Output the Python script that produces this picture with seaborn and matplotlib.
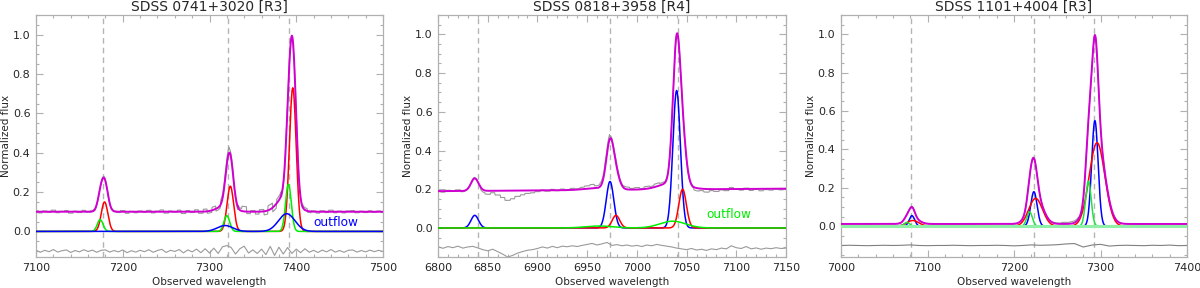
import numpy as np
import pandas as pd
import matplotlib
matplotlib.use("Agg")
import matplotlib.pyplot as plt
import seaborn as sns
from matplotlib.ticker import MultipleLocator

# --- data -----------------------------------------------------------------
titles = ["SDSS 0741+3020 [R3]", "SDSS 0818+3958 [R4]", "SDSS 1101+4004 [R3]"]
xlims = [(7100, 7500), (6800, 7150), (7000, 7400)]
ylims = [(-0.13, 1.1), (-0.15, 1.1), (-0.16, 1.1)]
xmajor = [100, 50, 100]
xminor = [20, 10, 20]

# vertical reference lines (line centres)
p1_vlines = [7177, 7321, 7392]
p2_vlines = [6840, 6973, 7041]
p3_vlines = [7081, 7223, 7293]

# continuum level at left / right edge
p1_cont = [0.10, 0.10]
p2_cont = [0.190, 0.203]
p3_cont = [0.012, 0.012]

# gaussian components: (centre, amplitude, sigma)
p1_red = [(7179, 0.15, 3.8), (7324, 0.23, 3.8), (7396, 0.73, 3.9)]
p1_green = [(7174, 0.06, 3.3), (7320, 0.08, 3.3), (7391, 0.24, 3.3)]
p1_blue = [(7318, 0.03, 9.0), (7389, 0.09, 9.5)]

p2_blue = [(6837, 0.065, 3.8), (6973, 0.24, 3.8), (7040, 0.71, 3.8)]
p2_red = [(6979, 0.065, 3.8), (7046, 0.20, 3.8)]
p2_green = [(6962, 0.010, 14.0), (7036, 0.035, 13.0)]

p3_blue = [(7082, 0.055, 3.2), (7223, 0.18, 3.7), (7293.5, 0.55, 3.7)]
p3_red = [(7083, 0.030, 7.0), (7225, 0.145, 8.0), (7296, 0.435, 9.0)]
p3_green = [(7076, 0.020, 3.2), (7218, 0.075, 3.2), (7286, 0.235, 3.2)]

# residuals (data - model), sampled every 5 A (panels 1,2) / 10 A (panel 3)
p1_resid = [0.005, -0.006, 0.004, -0.003, 0.008, -0.005, 0.002, 0.006, -0.007, 0.003,
            -0.004, 0.007, -0.002, 0.005, -0.006, 0.004, 0.006, -0.005, 0.003, -0.004,
            0.006, -0.008, 0.002, -0.005, 0.004, -0.003, 0.007, -0.006, 0.003, 0.009,
            -0.007, 0.004, -0.002, 0.008, -0.009, 0.006, -0.004, 0.010, -0.008, 0.012,
            -0.010, 0.015, -0.012, 0.022, 0.028, 0.018, -0.015, 0.012, 0.025, -0.010,
            0.006, -0.012, 0.010, -0.018, 0.024, -0.022, 0.020, -0.015, 0.018, -0.012,
            0.010, -0.008, 0.012, -0.006, 0.004, -0.007, 0.005, -0.004, 0.008, -0.005,
            0.003, -0.006, 0.004, 0.006, -0.005, 0.003, -0.004, 0.005, -0.003, 0.004,
            -0.002]
p2_resid = [0.003, -0.005, 0.004, -0.002, 0.006, -0.004, 0.002, 0.005, -0.003, -0.012,
            -0.018, -0.010, -0.022, -0.035, -0.050, -0.042, -0.030, -0.022, -0.015, -0.012,
            -0.006, 0.002, -0.004, 0.005, -0.002, 0.006, 0.003, 0.008, 0.004, 0.010,
            0.015, 0.020, 0.012, 0.018, 0.025, 0.010, 0.014, 0.008, 0.012, 0.006,
            0.010, 0.004, 0.012, 0.008, 0.015, 0.010, 0.006, 0.002, -0.004, -0.008,
            -0.012, -0.006, -0.014, -0.010, -0.016, -0.008, -0.012, -0.004, -0.008, 0.008,
            -0.002, -0.006, 0.004, -0.008, -0.003, -0.010, -0.004, -0.007, -0.002, -0.006,
            -0.004]
p3_resid = [0.000, 0.001, 0.000, -0.001, 0.000, 0.001, 0.000, 0.001, 0.003, 0.000,
            -0.001, 0.000, 0.000, 0.001, 0.000, -0.001, 0.000, 0.000, 0.001, 0.000,
            -0.002, 0.000, 0.003, 0.001, 0.002, 0.004, 0.008, 0.010, -0.008, 0.002,
            0.006, -0.003, 0.000, 0.001, 0.000, -0.001, 0.001, 0.000, 0.002, -0.001,
            0.000]
resid_step = [5, 5, 10]

outflow_text = [(7420, 0.045, "#0000ff"), (7070, 0.07, "#00ee00"), None]

# --- styling ---------------------------------------------------------------
sns.set_style("ticks")
plt.rcParams["font.family"] = ["DejaVu Sans"]
axcol = "#b0b0b0"
MAG = "#d000d0"
RED = "#ff0000"
BLUE = "#0000ff"
GREEN = "#00ee00"
GRAY = "#9a9a9a"


def gauss_sum(wl, comps):
    out = np.zeros_like(wl)
    for c, a, s in comps:
        out += a * np.exp(-0.5 * ((wl - c) / s) ** 2)
    return out


def line(ax, x, y, color, lw, **kw):
    sns.lineplot(x=x, y=y, ax=ax, color=color, lw=lw, estimator=None,
                 sort=False, legend=False, **kw)


fig = plt.figure(figsize=(12, 2.88), dpi=100)
lefts = [36 / 1200, 438 / 1200, 841 / 1200]
widths = [347 / 1200, 348 / 1200, 346 / 1200]
bottom, height = 1 - 257 / 288, 242 / 288

panels = [
    dict(vl=p1_vlines, cont=p1_cont, comps=[(p1_red, RED), (p1_green, GREEN), (p1_blue, BLUE)],
         resid=p1_resid, rescol=GRAY, base=None),
    dict(vl=p2_vlines, cont=p2_cont, comps=[(p2_blue, BLUE), (p2_red, RED), (p2_green, GREEN)],
         resid=p2_resid, rescol=GRAY, base=None),
    dict(vl=p3_vlines, cont=p3_cont, comps=[(p3_blue, BLUE), (p3_red, RED), (p3_green, "#22e044")],
         resid=p3_resid, rescol="#808080", base="#90f0a8"),
]

for i, p in enumerate(panels):
    ax = fig.add_axes([lefts[i], bottom, widths[i], height])
    x0, x1 = xlims[i]
    wl = np.arange(x0, x1 + 0.25, 0.5)
    cont = p["cont"][0] + (p["cont"][1] - p["cont"][0]) * (wl - x0) / (x1 - x0)
    allcomps = [c for comps, _ in p["comps"] for c in comps]
    model = cont + gauss_sum(wl, allcomps)

    res = np.array(p["resid"])
    step = resid_step[i]
    wl_res = x0 + step * np.arange(len(res))
    idx = np.clip(np.round((wl - x0) / step).astype(int), 0, len(res) - 1)
    data = model + res[idx]

    for v in p["vl"]:
        ax.axvline(v, color="#b4b4b4", lw=1.0, ls=(0, (4, 3)), zorder=1)

    line(ax, wl, data, GRAY, 0.8, zorder=2)
    line(ax, wl_res, -0.1 + res, p["rescol"], 0.8, zorder=2)

    for comps, col in p["comps"]:
        line(ax, wl, gauss_sum(wl, comps), col, 1.1, zorder=4)
    if p["base"]:
        ax.axhline(0, color=p["base"], lw=2.2, zorder=4.5)
    line(ax, wl, model, MAG, 1.4, zorder=5)

    if outflow_text[i]:
        tx, ty, tc = outflow_text[i]
        ax.text(tx, ty, "outflow", color=tc, fontsize=8.7, va="center", ha="left")

    ax.set_xlim(x0, x1)
    ax.set_ylim(*ylims[i])
    ax.xaxis.set_major_locator(MultipleLocator(xmajor[i]))
    ax.xaxis.set_minor_locator(MultipleLocator(xminor[i]))
    ax.yaxis.set_minor_locator(MultipleLocator(0.05))
    ax.set_yticks([0.0, 0.2, 0.4, 0.6, 0.8, 1.0])
    ax.set_yticklabels(["0.0", "0.2", "0.4", "0.6", "0.8", "1.0"])
    ax.tick_params(which="both", direction="in", top=True, right=True,
                   color=axcol, labelsize=8)
    ax.tick_params(which="major", length=5, width=0.8, pad=4)
    ax.tick_params(which="minor", length=2.5, width=0.8)
    for s in ax.spines.values():
        s.set_color(axcol)
        s.set_linewidth(0.9)
    ax.set_title(titles[i], fontsize=10, pad=3)
    ax.set_xlabel("Observed wavelength", fontsize=7.5, labelpad=3)
    ax.set_ylabel("Normalized flux", fontsize=7.5, labelpad=1)

fig.savefig("out.png", dpi=100)
